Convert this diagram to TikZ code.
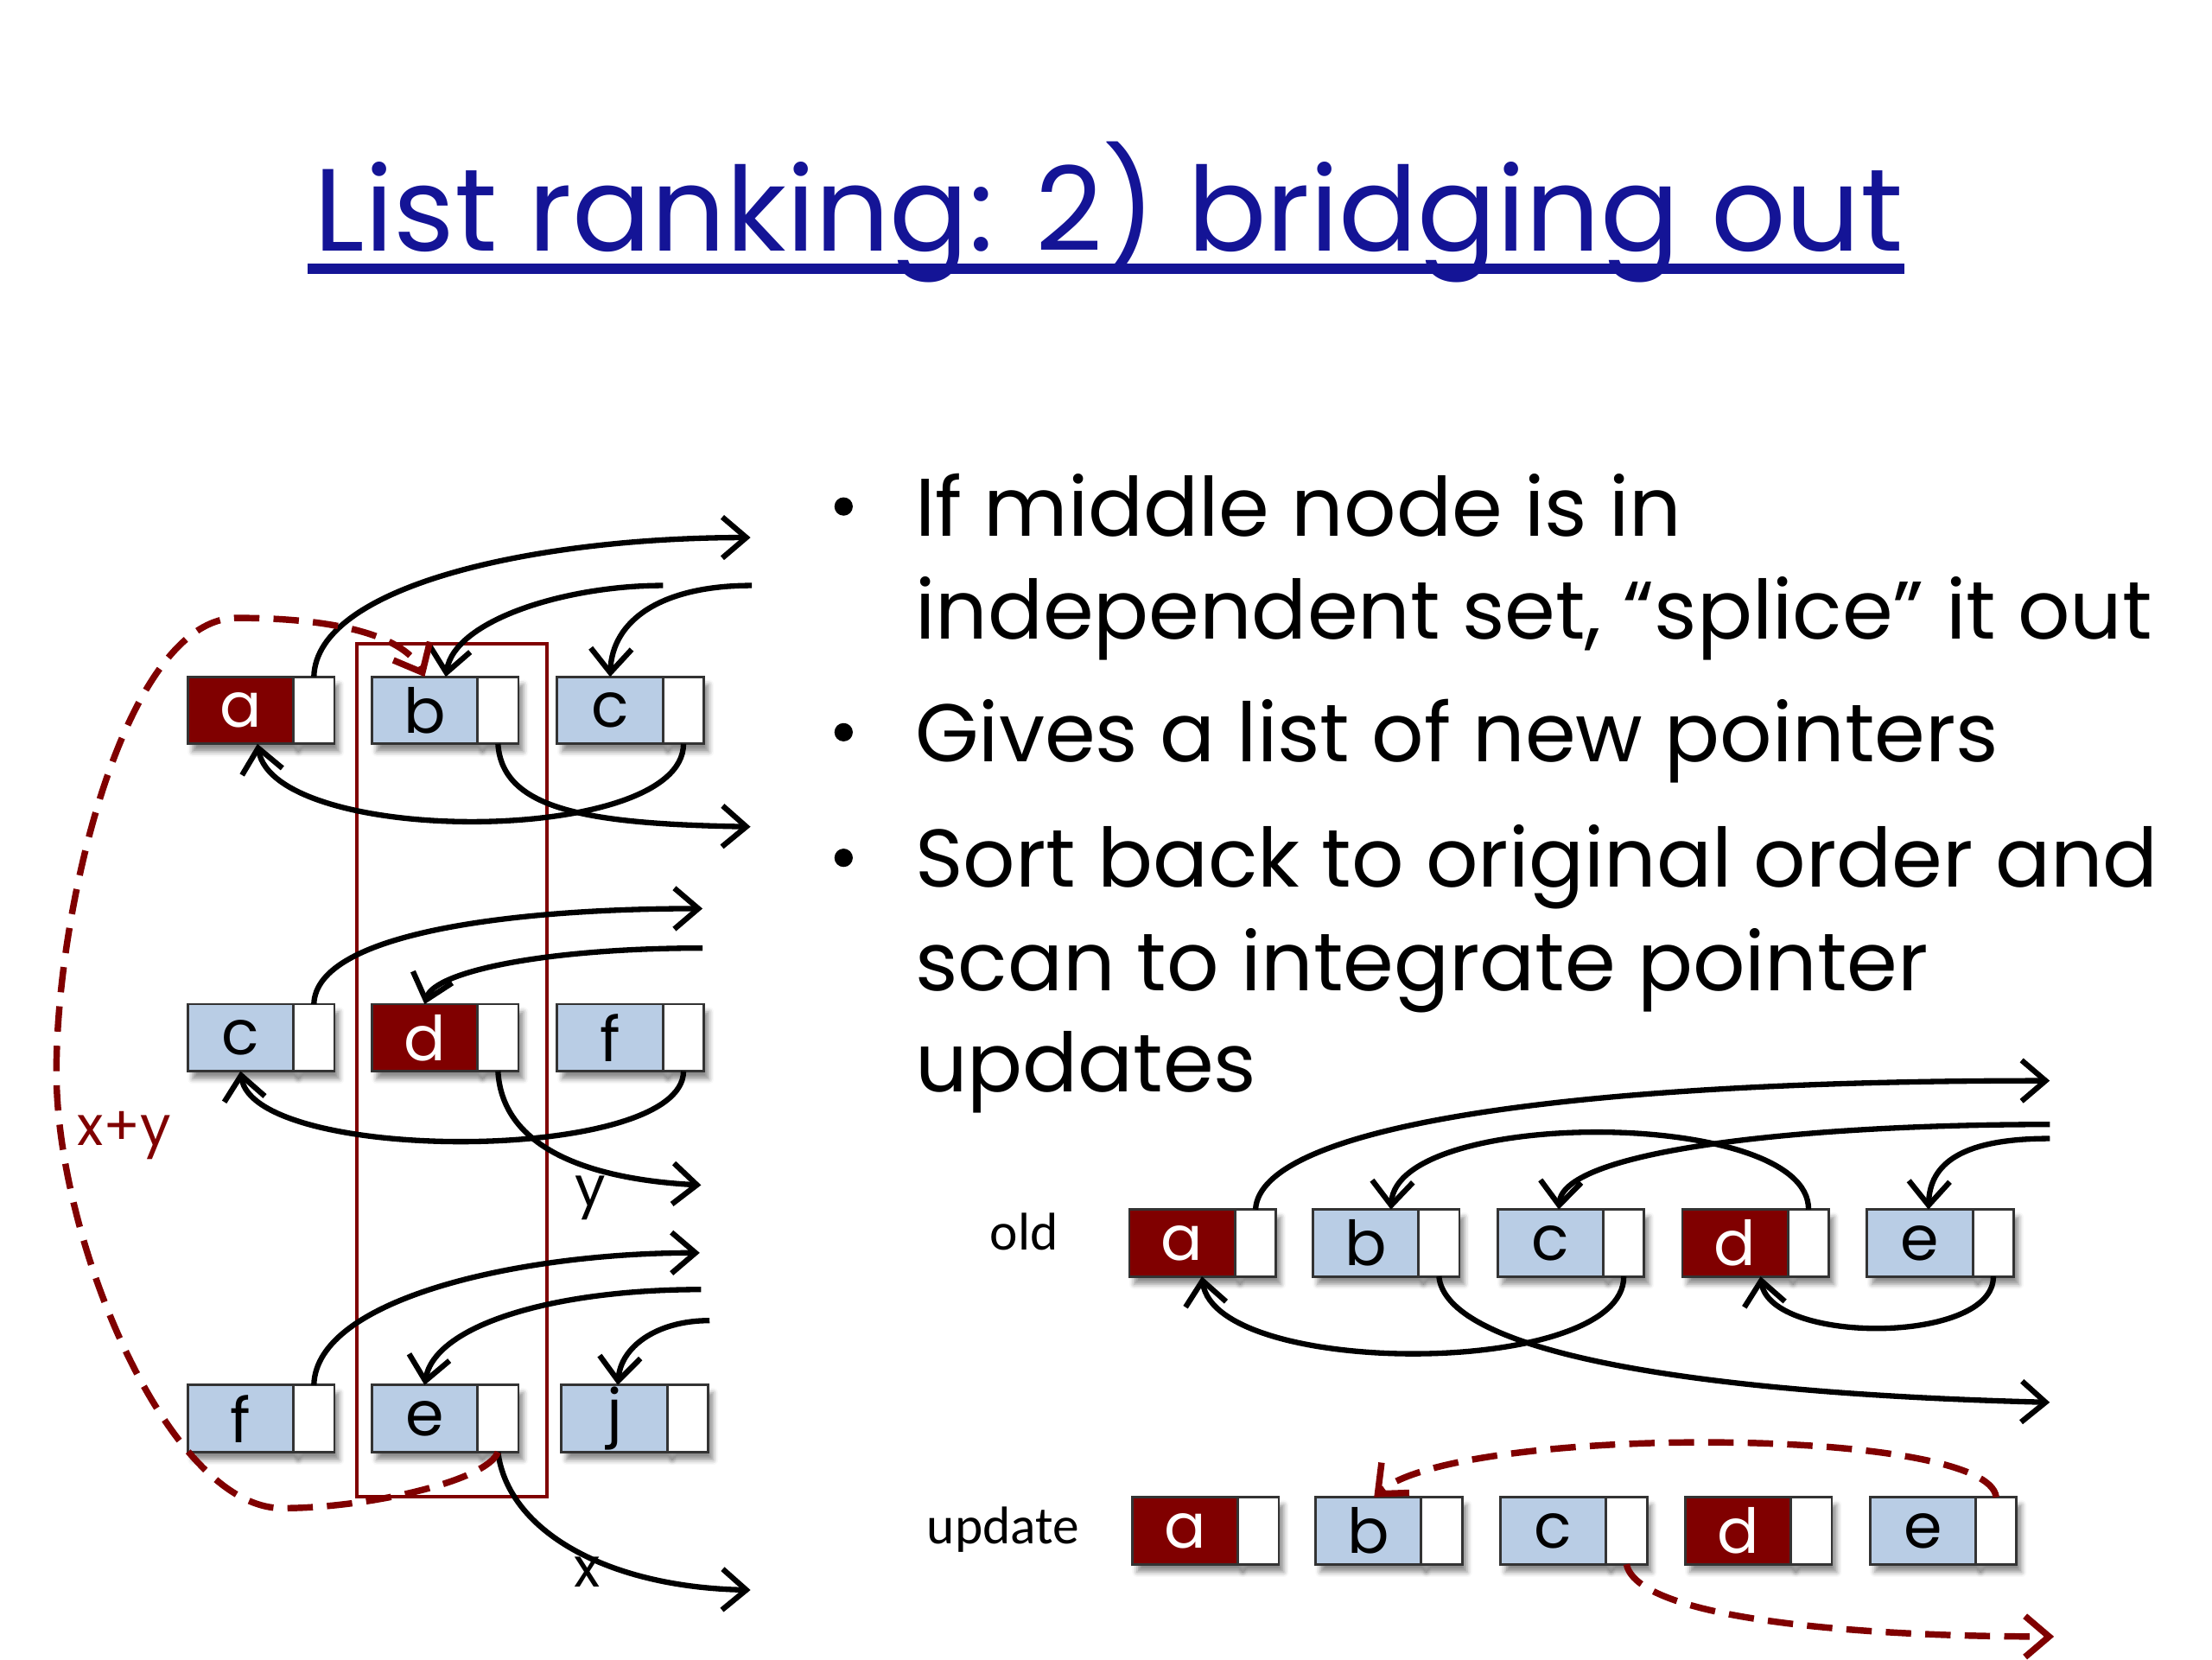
\documentclass[tikz,border=0pt]{standalone}
\usepackage{fontspec}
\setmainfont{Poppins}
\newfontfamily\labelfont{Carlito}
\usepackage{tikz}
\usetikzlibrary{positioning,shadows.blur,arrows.meta}
\definecolor{boxred}{RGB}{128,0,0}
\definecolor{boxblue}{RGB}{185,205,229}
\definecolor{titleblue}{RGB}{20,20,150}

\begin{document}
\begin{tikzpicture}[x=0.1mm,y=-0.1mm]
  \tikzstyle{cell} = [draw=black!80, line width=0.5pt, rectangle, inner sep=0pt, outer sep=0pt, minimum width=7.5mm, minimum height=4.75mm, blur shadow={shadow xshift=0.35mm, shadow yshift=-0.55mm, shadow blur radius=0.35mm, shadow opacity=45}, font={\fontsize{12.5}{12}\selectfont}]
  \tikzstyle{redcell} = [cell, fill=boxred, text=white]
  \tikzstyle{bluecell} = [cell, fill=boxblue]
  \tikzstyle{ptrcell} = [cell, fill=white, minimum width=2.9mm]
  \tikzstyle{link} = [line width=1.1pt, -{Straight Barb[length=1.7mm, width=2.9mm]}]
  \tikzstyle{bridge} = [boxred, line width=1.3pt, dash pattern=on 1.8mm off 1mm, -{Straight Barb[length=1.7mm, width=2.9mm]}]
  \tikzstyle{bulletText} = [anchor=base west, inner sep=0pt, font={\fontsize{16.5}{18}\selectfont}]
  \tikzstyle{bulletDot} = [circle, fill=black, inner sep=0pt, minimum size=1.3mm]
  \tikzstyle{rowLabel} = [anchor=base, inner sep=0pt, font={\labelfont\fontsize{10.7}{12}\selectfont}]
  \tikzstyle{ptrLabel} = [inner sep=0pt, font={\fontsize{11}{12}\selectfont}]

  \useasboundingbox (0,0) rectangle (1568,1176);

  % title
  \node[anchor=base west, inner sep=0pt, text=titleblue, font={\fontsize{23.6}{28}\selectfont}, name=title] at (222,178) {List ranking: 2) bridging out};
  \draw[titleblue, line width=2pt] ([xshift=-0.4mm, yshift=-1.25mm]title.base west) -- ([yshift=-1.25mm]title.base east);

  % bullets
  \node[bulletDot, name=dot1] at (598,359) {};
  \node[bulletText, name=line1] at (648,380) {If middle node is in};
  \node[bulletText, name=line2] at (648,453) {independent set, “splice” it out};
  \node[bulletDot, name=dot2] at (598,519) {};
  \node[bulletText, name=line3] at (648,540) {Gives a list of new pointers};
  \node[bulletDot, name=dot3] at (598,608) {};
  \node[bulletText, name=line4] at (648,629) {Sort back to original order and};
  \node[bulletText, name=line5] at (648,702) {scan to integrate pointer};
  \node[bulletText, name=line6] at (648,774) {updates};

  % independent set
  \node[draw=boxred, line width=0.7pt, minimum width=13.5mm, minimum height=60.5mm, name=indep] at (320.5,758.5) {};

  % left lists
  \node[redcell, name=la] at (170.5,503.5) {a};
  \node[ptrcell, name=la-ptr, right=0pt of la] {};
  \node[bluecell, name=lb] at (301,503.5) {b};
  \node[ptrcell, name=lb-ptr, right=0pt of lb] {};
  \node[bluecell, name=lc] at (432.5,503.5) {c};
  \node[ptrcell, name=lc-ptr, right=0pt of lc] {};

  \node[bluecell, name=mc] at (170.5,735.5) {c};
  \node[ptrcell, name=mc-ptr, right=0pt of mc] {};
  \node[redcell, name=md] at (301,735.5) {d};
  \node[ptrcell, name=md-ptr, right=0pt of md] {};
  \node[bluecell, name=mf] at (432.5,735.5) {f};
  \node[ptrcell, name=mf-ptr, right=0pt of mf] {};

  \node[bluecell, name=bf] at (170.5,1005.5) {f};
  \node[ptrcell, name=bf-ptr, right=0pt of bf] {};
  \node[bluecell, name=be] at (301,1005.5) {e};
  \node[ptrcell, name=be-ptr, right=0pt of be] {};
  \node[bluecell, name=bj] at (435.5,1005.5) {j};
  \node[ptrcell, name=bj-ptr, right=0pt of bj] {};

  % old list
  \node[rowLabel, name=oldlbl] at (726,886) {old};
  \node[redcell, name=oa] at (838,881) {a};
  \node[ptrcell, name=oa-ptr, right=0pt of oa] {};
  \node[bluecell, name=ob] at (968,881) {b};
  \node[ptrcell, name=ob-ptr, right=0pt of ob] {};
  \node[bluecell, name=oc] at (1099,881) {c};
  \node[ptrcell, name=oc-ptr, right=0pt of oc] {};
  \node[redcell, name=od] at (1230,881) {d};
  \node[ptrcell, name=od-ptr, right=0pt of od] {};
  \node[bluecell, name=oe] at (1361,881) {e};
  \node[ptrcell, name=oe-ptr, right=0pt of oe] {};

  % update list
  \node[rowLabel, name=updlbl] at (711,1094) {update};
  \node[redcell, name=ua] at (840,1085) {a};
  \node[ptrcell, name=ua-ptr, right=0pt of ua] {};
  \node[bluecell, name=ub] at (970,1085) {b};
  \node[ptrcell, name=ub-ptr, right=0pt of ub] {};
  \node[bluecell, name=uc] at (1101,1085) {c};
  \node[ptrcell, name=uc-ptr, right=0pt of uc] {};
  \node[redcell, name=ud] at (1232,1085) {d};
  \node[ptrcell, name=ud-ptr, right=0pt of ud] {};
  \node[bluecell, name=ue] at (1363,1085) {e};
  \node[ptrcell, name=ue-ptr, right=0pt of ue] {};

  % loose ends
  \coordinate (r1-out) at (532,381);
  \coordinate (r1-inb) at (470,415);
  \coordinate (r1-inc) at (533,415);
  \coordinate (r1-low) at (532,586);
  \coordinate (r2-out) at (498,644);
  \coordinate (r2-ind) at (498,672);
  \coordinate (r2-low) at (497,840);
  \coordinate (r3-out) at (496,888);
  \coordinate (r3-ine) at (497,914);
  \coordinate (r3-inj) at (503,936);
  \coordinate (r3-low) at (532,1127);
  \coordinate (old-out) at (1453,766);
  \coordinate (old-inc) at (1453,797);
  \coordinate (old-ine) at (1453,807);
  \coordinate (old-low) at (1453,994);
  \coordinate (upd-low) at (1456,1160);

  % left pointers
  \draw[link] (la-ptr.north) .. controls (224,415) and (380,381) .. (r1-out);
  \draw[link] (r1-inb) .. controls (400,415) and (322,440) .. ([xshift=1.5mm]lb.north);
  \draw[link] (r1-inc) .. controls (468,415) and (434,440) .. (lc.north);
  \draw[link] (lc-ptr.south) .. controls (484.5,600) and (195,600) .. ([xshift=1.2mm]la.south);
  \draw[link] (lb-ptr.south) .. controls (356,575) and (420,584) .. (r1-low);

  \draw[link] (mc-ptr.north) .. controls (224,660) and (370,644) .. (r2-out);
  \draw[link] (r2-ind) .. controls (390,672) and (308,688) .. (md.north);
  \draw[link] (mf-ptr.south) .. controls (484.5,825) and (180,825) .. (mc.south);
  \draw[link] (md-ptr.south) .. controls (356,815) and (420,836) .. (r2-low);
  \node[ptrLabel, name=ylbl] at (418.5,849) {y};

  \draw[link] (bf-ptr.north) .. controls (224,920) and (370,888) .. (r3-out);
  \draw[link] (r3-ine) .. controls (390,914) and (308,940) .. (be.north);
  \draw[link] (r3-inj) .. controls (465,936) and (440,955) .. ([xshift=0.25mm]bj.north);
  \draw[link] (be-ptr.south) .. controls (360,1085) and (430,1125) .. (r3-low);
  \node[ptrLabel, name=xlbl] at (416,1114) {x};

  % bridging out e -> b
  \draw[bridge] (be-ptr.south) .. controls (345,1050) and (260,1069) .. (200,1069)
      .. controls (120,1069) and (40,880) .. (40,760)
      .. controls (40,640) and (90,438) .. (168,438)
      .. controls (230,438) and (285,448) .. (lb.north);
  \node[ptrLabel, text=boxred, name=xylbl] at (88,805) {x+y};

  % old pointers
  \draw[link] (oa-ptr.north) .. controls (893,800) and (1100,766) .. (old-out);
  \draw[link] (old-inc) .. controls (1280,797) and (1108,815) .. ([xshift=0.6mm]oc.north);
  \draw[link] (old-ine) .. controls (1390,807) and (1368,825) .. ([xshift=0.6mm]oe.north);
  \draw[link] (od-ptr.north) .. controls (1282.5,785) and (990,785) .. ([xshift=1.8mm]ob.north);
  \draw[link] (oc-ptr.south) .. controls (1151.5,977) and (862,977) .. ([xshift=1.4mm]oa.south);
  \draw[link] (ob-ptr.south) .. controls (1025,955) and (1180,987) .. (old-low);
  \draw[link] (oe-ptr.south) .. controls (1413.5,953) and (1255,953) .. ([xshift=1.8mm]od.south);

  % updates
  \draw[bridge] (ue-ptr.north) .. controls (1410,1010) and (1030,1010) .. ([xshift=0.4mm]ub.north);
  \draw[bridge] (uc-ptr.south) .. controls (1160,1145) and (1300,1160) .. (upd-low);
\end{tikzpicture}
\end{document}
